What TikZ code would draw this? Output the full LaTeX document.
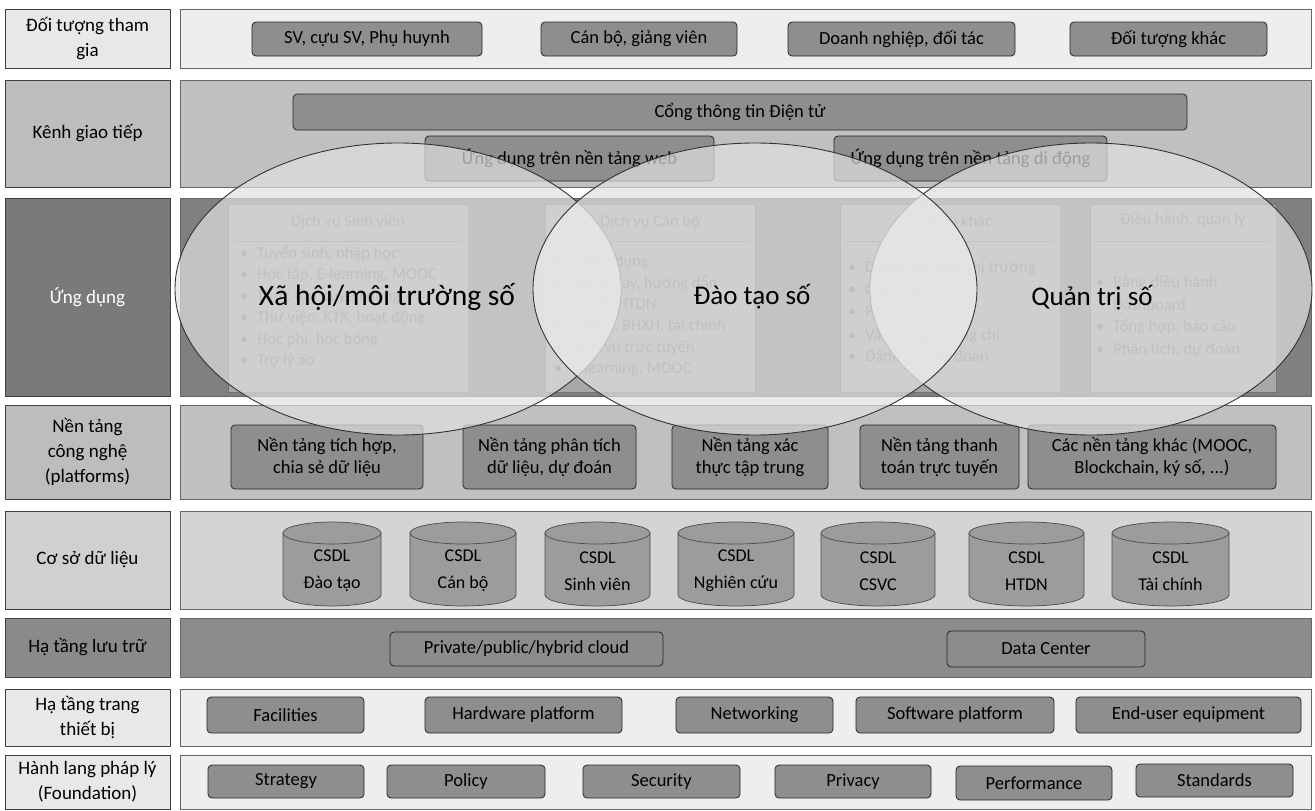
\documentclass[tikz,border=0pt]{standalone}
\usepackage{fontspec}
\setmainfont{Carlito}
\usetikzlibrary{shapes.geometric}
\definecolor{bgL}{HTML}{EEEEEE}
\definecolor{bgM}{HTML}{C0C0C0}
\definecolor{bgD}{HTML}{808080}
\definecolor{bgC}{HTML}{D4D4D4}
\definecolor{bgS}{HTML}{8C8C8C}
\definecolor{btnG}{HTML}{8E8E8E}
\definecolor{cylG}{HTML}{9C9C9C}
\definecolor{appG}{HTML}{A8A8A8}
\definecolor{labL}{HTML}{E8E8E8}
\definecolor{labM}{HTML}{BDBDBD}
\definecolor{labD}{HTML}{7A7A7A}
\definecolor{labC}{HTML}{D0D0D0}
\definecolor{labS}{HTML}{8A8A8A}
\definecolor{fade}{HTML}{777777}
\newcommand\fsz[2]{\fontsize{#1}{#2}\selectfont}
\newcommand\mybox[7]{%
  \pgfmathsetmacro\mbcx{(#3+#5)/2}%
  \pgfmathsetmacro\mbcy{(#4+#6)/2}%
  \pgfmathsetmacro\mbw{#5-#3}%
  \pgfmathsetmacro\mbh{#6-#4}%
  \node[#2, minimum width=\mbw pt, minimum height=\mbh pt] (#1) at (\mbcx,\mbcy) {#7};}
\newcommand\dbcyl[4]{%
  \pgfmathsetmacro\cya{(#3-#2)/2}%
  \path[fill=cylG, draw=black!70, line width=0.7pt] (#2,533) -- (#2,595)
     arc[start angle=180, end angle=360, x radius=\cya pt, y radius=11pt] -- (#3,533)
     arc[start angle=0, end angle=180, x radius=\cya pt, y radius=11pt] -- cycle;
  \draw[black!70, line width=0.7pt] (#2,533) arc[start angle=180, end angle=360, x radius=\cya pt, y radius=11pt];
  \node[align=center, font=\fsz{18}{27}] (#1) at ({(#2+#3)/2},571) {#4};}
\tikzset{
 every node/.style={inner sep=0pt, outer sep=0pt},
 lab/.style={draw=black!75, line width=0.8pt, align=center, font=\fsz{19}{25}},
 rowbox/.style={draw=black!60, line width=1pt},
 btn/.style={draw=black!85, line width=0.8pt, rounded corners=4pt, fill=btnG, align=center, font=\fsz{18.5}{22}},
 appbox/.style={draw=black!55, line width=0.6pt, fill=appG},
 faded/.style={text=fade, font=\fsz{16.5}{21}},
 venn/.style={ellipse, draw=black!80, line width=0.9pt, fill=black!12, fill opacity=0.7},
 vennlab/.style={font=\fsz{27}{30}},
}
\begin{document}
\begin{tikzpicture}[x=1pt,y=-1pt]
\useasboundingbox[fill=white] (0,0) rectangle (1315,811);
% ---- rows (content backgrounds)
\mybox{r1}{rowbox, fill=bgL}{180}{9}{1311}{68}{}
\mybox{r2}{rowbox, fill=bgM}{180}{80}{1311}{187}{}
\mybox{r3}{rowbox, fill=bgD}{180}{198}{1311}{396}{}
\mybox{r4}{rowbox, fill=bgM}{180}{405}{1311}{499}{}
\mybox{r5}{rowbox, fill=bgC}{180}{511}{1311}{609}{}
\mybox{r6}{rowbox, fill=bgS}{180}{618}{1311}{677}{}
\mybox{r7}{rowbox, fill=bgL}{180}{689}{1311}{746}{}
\mybox{r8}{rowbox, fill=bgL}{180}{755}{1311}{809}{}
% ---- labels
\mybox{l1}{lab, fill=labL}{5}{9}{170}{68}{Đối tượng tham\\gia}
\mybox{l2}{lab, fill=labM}{5}{80}{170}{187}{Kênh giao tiếp}
\mybox{l3}{lab, fill=labD, text=white}{5}{198}{170}{396}{Ứng dụng}
\mybox{l4}{lab, fill=labM}{5}{405}{170}{499}{Nền tảng\\công nghệ\\(platforms)}
\mybox{l5}{lab, fill=labC}{5}{511}{170}{609}{Cơ sở dữ liệu}
\mybox{l6}{lab, fill=labS}{5}{618}{170}{677}{Hạ tầng lưu trữ}
\mybox{l7}{lab, fill=labL}{5}{689}{170}{746}{Hạ tầng trang\\thiết bị}
\mybox{l8}{lab, fill=labL}{5}{755}{170}{809}{Hành lang pháp lý\\(Foundation)}
% ---- row 1
\mybox{sv}{btn}{252}{22}{482}{56}{SV, cựu SV, Phụ huynh}
\mybox{cb}{btn}{541}{22}{737}{56}{Cán bộ, giảng viên}
\mybox{dn}{btn}{788}{22}{1015}{56}{Doanh nghiệp, đối tác}
\mybox{dk}{btn}{1070}{22}{1267}{56}{Đối tượng khác}
% ---- row 2
\mybox{cong}{btn}{293}{94}{1187}{130}{Cổng thông tin Điện tử}
\mybox{web}{btn}{425}{136}{714}{181}{Ứng dụng trên nền tảng web}
\mybox{mob}{btn}{834}{136}{1107}{181}{Ứng dụng trên nền tảng di động}
% ---- row 3 inner boxes (faded under the ellipses)
\mybox{a1}{appbox}{228}{204}{468}{392}{}
\mybox{a2}{appbox}{545}{204}{755}{392}{}
\mybox{a3}{appbox}{840}{204}{1060}{392}{}
\mybox{a4}{appbox}{1090}{204}{1276}{392}{}
\foreach \n/\xa/\xb in {a1/228/468, a2/545/755, a3/840/1060, a4/1090/1276}
  \draw[black!50, line width=0.8pt] (\xa+6,241) -- (\xb-6,241);
\node[faded] (t1) at (348,222) {Dịch vụ Sinh viên};
\node[faded] (t2) at (650,222) {Dịch vụ Cán bộ};
\node[faded] (t3) at (950,222) {Dịch vụ khác};
\node[faded] (t4) at (1183,220) {Điều hành, quản lý};
\foreach \t [count=\i] in {{Tuyển sinh, nhập học},{Học tập, E-learning, MOOC},{Thực tập, tuyển dụng},{Thư viện, KTX, hoạt động},{Học phí, học bổng},{Trợ lý ảo}}
  \node[faded, anchor=west] (b1-\i) at (240,{254+21.5*(\i-1)}) {\textbullet\hspace{9pt}\t};
\foreach \t [count=\i] in {{Tuyển dụng},{Giảng dạy, hướng dẫn},{NCKH, HTDN},{Lương, BHXH, tài chính},{Dịch vụ trực tuyến},{E-learning, MOOC}}
  \node[faded, anchor=west] (b2-\i) at (554,{262+21.5*(\i-1)}) {\textbullet\hspace{9pt}\t};
\foreach \t [count=\i] in {{Doanh nghiệp, thị trường},{Cựu sinh viên},{Phụ huynh},{Văn bằng, chứng chỉ},{Đánh giá, dự đoán}}
  \node[faded, anchor=west] (b3-\i) at (848,{268+22.3*(\i-1)}) {\textbullet\hspace{9pt}\t};
\node[faded, anchor=west] (b4-1) at (1096,283) {\textbullet\hspace{9pt}Bảng điều hành};
\node[faded, anchor=west] (b4-2) at (1096,305) {\phantom{\textbullet}\hspace{9pt}Dashboard};
\node[faded, anchor=west] (b4-3) at (1096,327) {\textbullet\hspace{9pt}Tổng hợp, báo cáo};
\node[faded, anchor=west] (b4-4) at (1096,350) {\textbullet\hspace{9pt}Phân tích, dự đoán};
% ---- row 4 platforms
\mybox{p1}{btn}{231}{425}{423}{489}{Nền tảng tích hợp,\\chia sẻ dữ liệu}
\mybox{p2}{btn}{463}{425}{636}{489}{Nền tảng phân tích\\dữ liệu, dự đoán}
\mybox{p3}{btn}{672}{425}{828}{489}{Nền tảng xác\\thực tập trung}
\mybox{p4}{btn}{860}{425}{1019}{489}{Nền tảng thanh\\toán trực tuyến}
\mybox{p5}{btn}{1028}{425}{1276}{489}{Các nền tảng khác (MOOC,\\Blockchain, ký số, ...)}
% ---- row 5 databases
\dbcyl{d1}{283}{381}{CSDL\\Đào tạo}
\dbcyl{d2}{410}{516}{CSDL\\Cán bộ}
\dbcyl{d3}{545}{650}{CSDL\\Sinh viên}
\dbcyl{d4}{678}{794}{CSDL\\Nghiên cứu}
\dbcyl{d5}{821}{935}{CSDL\\CSVC}
\dbcyl{d6}{969}{1084}{CSDL\\HTDN}
\dbcyl{d7}{1112}{1229}{CSDL\\Tài chính}
% ---- row 6
\mybox{cloud}{btn, fill=bgS}{390}{632}{663}{666}{Private/public/hybrid cloud}
\mybox{dc}{btn, fill=bgS}{947}{631}{1145}{667}{Data Center}
% ---- row 7
\mybox{fac}{btn}{207}{697}{364}{733}{Facilities}
\mybox{hw}{btn}{425}{697}{622}{733}{Hardware platform}
\mybox{net}{btn}{676}{697}{833}{733}{Networking}
\mybox{sw}{btn}{856}{697}{1054}{733}{Software platform}
\mybox{eu}{btn}{1076}{697}{1301}{733}{End-user equipment}
% ---- row 8
\mybox{str}{btn}{208}{765}{364}{798}{Strategy}
\mybox{pol}{btn}{387}{765}{545}{798}{Policy}
\mybox{sec}{btn}{583}{765}{740}{798}{Security}
\mybox{pri}{btn}{775}{765}{931}{798}{Privacy}
\mybox{perf}{btn}{956}{766}{1112}{800}{Performance}
\mybox{std}{btn}{1136}{764}{1293}{797}{Standards}
% ---- Venn ellipses
\node[venn, minimum width=446pt, minimum height=292pt] (e1) at (398,289) {};
\node[venn, minimum width=442pt, minimum height=292pt] (e3) at (1091,289) {};
% lighter overlaps (lenses)
\begin{scope}
  \clip (398,289) ellipse [x radius=223pt, y radius=146pt];
  \fill[white, opacity=0.6] (755,289) ellipse [x radius=222pt, y radius=146pt];
\end{scope}
\begin{scope}
  \clip (1091,289) ellipse [x radius=221pt, y radius=146pt];
  \fill[white, opacity=0.6] (755,289) ellipse [x radius=222pt, y radius=146pt];
\end{scope}
\node[venn, minimum width=444pt, minimum height=292pt] (e2) at (755,289) {};
\node[vennlab, font=\fsz{29.5}{32}] (v1) at (387,297) {Xã hội/môi trường số};
\node[vennlab] (v2) at (752,297) {Đào tạo số};
\node[vennlab] (v3) at (1092,298) {Quản trị số};
\end{tikzpicture}
\end{document}
